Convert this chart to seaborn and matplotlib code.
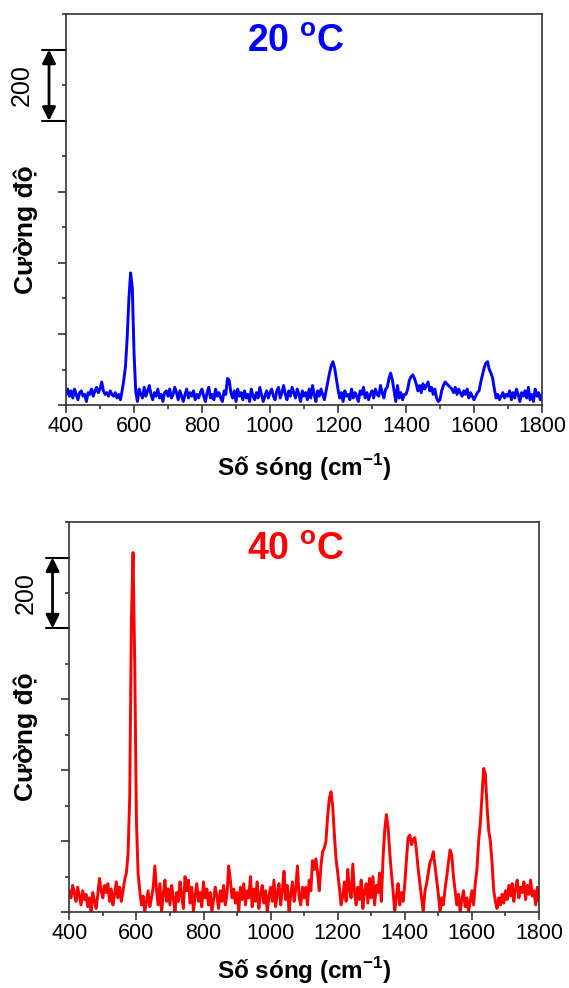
import numpy as np
import pandas as pd
import matplotlib
matplotlib.use('Agg')
import matplotlib.pyplot as plt
import seaborn as sns
from matplotlib.ticker import MultipleLocator

# wavenumber grid, 400..1800 cm-1 every 5
wavenumber = list(range(400, 1805, 5))

intensity_20 = [
    30, 45, 25, 40, 20, 45, 30, 15, 35, 40, 25, 30, 10, 35, 30, 45, 25, 40, 50, 35,
    45, 65, 40, 30, 35, 25, 40, 30, 25, 35, 20, 30, 15, 40, 70, 110, 190, 300, 372, 330,
    150, 40, 10, 45, 30, 20, 50, 25, 40, 55, 30, 15, 35, 25, 45, 20, 30, 10, 35, 40,
    25, 45, 20, 30, 50, 35, 15, 40, 25, 10, 30, 45, 20, 35, 25, 40, 15, 30, 20, 35,
    45, 25, 10, 35, 50, 20, 30, 15, 45, 25, 35, 20, 10, 40, 30, 75, 70, 35, 20, 40,
    10, 45, 25, 35, 15, 40, 20, 30, 10, 45, 25, 15, 35, 20, 50, 30, 10, 25, 40, 20,
    35, 45, 25, 15, 40, 50, 20, 35, 55, 30, 15, 40, 25, 50, 35, 20, 45, 30, 10, 40,
    25, 35, 15, 45, 20, 55, 30, 10, 40, 25, 45, 30, 15, 40, 65, 90, 110, 122, 105, 75,
    45, 20, 35, 10, 40, 25, 30, 15, 45, 20, 35, 25, 10, 40, 30, 50, 20, 35, 15, 30,
    40, 20, 45, 30, 25, 55, 35, 20, 45, 50, 75, 90, 70, 40, 10, 55, 20, 35, 15, 30,
    30, 45, 70, 80, 85, 75, 60, 40, 55, 35, 60, 45, 55, 65, 40, 50, 30, 45, 20, 10,
    15, 40, 55, 65, 60, 55, 50, 45, 35, 50, 30, 45, 35, 25, 40, 30, 45, 20, 35, 25,
    15, 25, 35, 40, 65, 85, 105, 118, 122, 100, 90, 75, 45, 20, 30, 15, 25, 35, 20, 30,
    25, 40, 15, 35, 20, 45, 30, 10, 35, 25, 40, 20, 50, 15, 30, 10, 45, 25, 35, 15, 30,
]

intensity_40 = [
    60, 40, 75, 55, 30, 70, 45, 20, 60, 35, 50, 15, 40, 0, 55, 30, 10, 50, 95, 60,
    40, 75, 55, 80, 30, 65, 20, 50, 85, 40, 70, 30, 60, 90, 110, 160, 320, 820, 1014, 700,
    260, 110, 60, 20, 45, 0, 30, 60, 15, 40, 70, 130, 60, 20, 80, 0, 50, 90, 30, 65,
    20, 75, 40, 0, 55, 30, 85, 45, 10, 100, 60, 90, 25, 70, 0, 45, 80, 30, 55, 15,
    85, 40, 65, 20, 55, 0, 35, 70, 45, 10, 60, 30, 75, 20, 50, 130, 90, 40, 65, 25,
    55, 0, 70, 35, 80, 20, 60, 40, 100, 15, 65, 30, 85, 10, 50, 75, 25, 60, 0, 45,
    70, 30, 90, 15, 55, 80, 20, 60, 115, 35, 75, 0, 50, 85, 30, 65, 130, 40, 20, 70,
    40, 70, 20, 90, 60, 145, 120, 150, 110, 60, 130, 170, 180, 200, 270, 320, 339, 300, 220, 150,
    110, 70, 20, 45, 85, 30, 120, 60, 40, 135, 55, 20, 70, 35, 90, 10, 60, 80, 25, 95,
    40, 100, 20, 75, 55, 110, 30, 150, 230, 275, 240, 170, 110, 60, 0, 45, 80, 20, 55, 30,
    80, 150, 210, 217, 190, 205, 210, 170, 120, 80, 40, 0, 60, 80, 110, 140, 150, 170, 130, 90,
    50, 0, 40, 20, 65, 100, 140, 175, 160, 100, 60, 20, 50, 0, 35, 60, 15, 40, 0, 30,
    60, 20, 80, 120, 200, 250, 330, 405, 390, 300, 230, 200, 140, 60, 30, 10, 40, 20, 50, 25,
    60, 35, 75, 45, 80, 30, 65, 90, 40, 70, 55, 85, 35, 75, 50, 90, 45, 60, 20, 70, 30,
]

panels = [
    ('20', intensity_20, '#0000ff'),
    ('40', intensity_40, '#ff0000'),
]

sns.set_theme(style='white')
plt.rcParams['font.family'] = ['Liberation Sans', 'DejaVu Sans']
plt.rcParams['mathtext.fontset'] = 'custom'
plt.rcParams['mathtext.rm'] = 'Liberation Sans'
plt.rcParams['mathtext.bf'] = 'Liberation Sans:bold'

fig = plt.figure(figsize=(5.69, 9.88), dpi=100)
boxes = [
    [0.116, 0.590, 0.8365, 0.3957],
    [0.1218, 0.0769, 0.8255, 0.3947],
]
ylabel_x = [-0.059, -0.067]
xlabel_pad = [11, 8]

for i, ((temp, values, color), box) in enumerate(zip(panels, boxes)):
    ax = fig.add_axes(box)
    df = pd.DataFrame({'x': wavenumber, 'y': values})
    sns.lineplot(data=df, x='x', y='y', color=color, linewidth=2.1, ax=ax)

    ax.set_xlim(400, 1800)
    ax.set_ylim(0, 1100)
    ax.xaxis.set_major_locator(MultipleLocator(200))
    ax.xaxis.set_minor_locator(MultipleLocator(100))
    ax.yaxis.set_major_locator(MultipleLocator(200))
    ax.yaxis.set_minor_locator(MultipleLocator(100))
    ax.tick_params(axis='both', which='major', direction='out', length=6,
                   width=1.1, color='#222222', bottom=True, left=True)
    ax.tick_params(axis='both', which='minor', direction='out', length=3,
                   width=1.1, color='#222222', bottom=True, left=True)
    ax.tick_params(axis='x', labelsize=15.5, pad=2, labelcolor='black')
    ax.tick_params(axis='y', labelleft=False)
    for s in ax.spines.values():
        s.set_color('#333333')
        s.set_linewidth(1.2)

    ax.set_xlabel('Số sóng (cm$^{\\mathbf{-1}}$)', fontsize=17.5, fontweight='bold',
                  labelpad=xlabel_pad[i], color='black')
    ax.set_ylabel('Cường độ', fontsize=19, fontweight='bold', color='black')
    ax.yaxis.set_label_coords(ylabel_x[i], 0.45)

    ax.text(0.483, 0.928, temp + ' $^{\\mathbf{o}}$C', transform=ax.transAxes,
            ha='center', va='center', fontsize=27, fontweight='bold', color=color)

    # 200-unit scale bar beside the y axis
    trans = ax.get_yaxis_transform()
    ax.annotate('', xy=(-0.0357, 1000), xytext=(-0.0357, 800),
                xycoords=trans, textcoords=trans, annotation_clip=False,
                arrowprops=dict(arrowstyle='<|-|>', color='black', lw=2,
                                mutation_scale=20, shrinkA=0, shrinkB=0))
    for yv in (800, 1000):
        ax.plot([-0.05, 0], [yv, yv], color='black', lw=1.5,
                transform=trans, clip_on=False)
    ax.text(-0.092, 900, '200', transform=trans, rotation=90,
            ha='center', va='center', fontsize=18, color='black')

fig.savefig('out.png', dpi=100)
